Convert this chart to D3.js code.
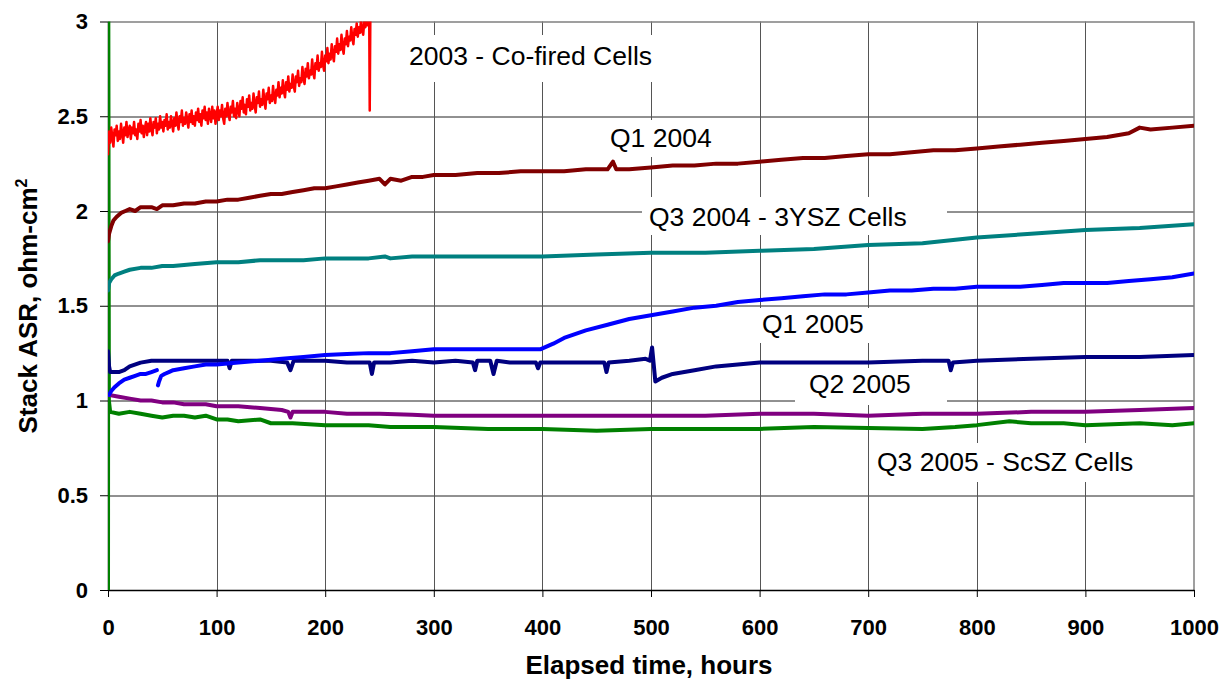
<!DOCTYPE html>
<html>
<head>
<meta charset="utf-8">
<script src="https://cdn.jsdelivr.net/npm/d3@7"></script>
<style>
  body { margin: 0; background: #fff; }
  text { font-family: "Liberation Sans", Arial, sans-serif; }
</style>
</head>
<body>
<div id="chart"></div>
<script>
// Data: [hours, ASR]
const cofired2003 = [[0,2.30],[1,2.42],[2,2.36],[3,2.44],[4,2.39],[5,2.34],[6,2.43],[7,2.40],[8,2.45],[9,2.37],[10,2.42],
  [11,2.38],[12,2.46],[13,2.41],[14,2.36],[15,2.44],[16,2.40],[17,2.47],[18,2.39],[19,2.43],[20,2.45],
  [21,2.38],[22,2.44],[23,2.41],[24,2.47],[25,2.40],[26,2.43],[27,2.38],[28,2.46],[29,2.42],[30,2.48],
  [31,2.41],[32,2.45],[33,2.39],[34,2.44],[35,2.47],[36,2.40],[37,2.46],[38,2.42],[39,2.49],[40,2.43],
  [41,2.40],[42,2.47],[43,2.44],[44,2.49],[45,2.41],[46,2.46],[47,2.43],[48,2.50],[49,2.44],[50,2.47],
  [51,2.42],[52,2.48],[53,2.45],[54,2.51],[55,2.43],[56,2.47],[57,2.44],[58,2.50],[59,2.46],[60,2.42],
  [61,2.49],[62,2.45],[63,2.52],[64,2.46],[65,2.43],[66,2.50],[67,2.47],[68,2.53],[69,2.45],[70,2.49],
  [71,2.46],[72,2.52],[73,2.48],[74,2.44],[75,2.51],[76,2.47],[77,2.53],[78,2.46],[79,2.50],[80,2.45],
  [81,2.52],[82,2.48],[83,2.54],[84,2.47],[85,2.51],[86,2.45],[87,2.53],[88,2.49],[89,2.55],[90,2.48],
  [91,2.52],[92,2.46],[93,2.54],[94,2.50],[95,2.47],[96,2.55],[97,2.49],[98,2.53],[99,2.46],[100,2.51],
  [101,2.55],[102,2.48],[103,2.53],[104,2.50],[105,2.56],[106,2.49],[107,2.46],[108,2.54],[109,2.50],[110,2.57],
  [111,2.51],[112,2.48],[113,2.55],[114,2.52],[115,2.58],[116,2.50],[117,2.54],[118,2.49],[119,2.57],[120,2.53],
  [121,2.50],[122,2.58],[123,2.54],[124,2.60],[125,2.52],[126,2.56],[127,2.51],[128,2.59],[129,2.55],[130,2.61],
  [131,2.53],[132,2.57],[133,2.54],[134,2.62],[135,2.56],[136,2.52],[137,2.60],[138,2.57],[139,2.63],[140,2.55],
  [141,2.59],[142,2.56],[143,2.64],[144,2.58],[145,2.54],[146,2.62],[147,2.59],[148,2.65],[149,2.57],[150,2.61],
  [151,2.58],[152,2.66],[153,2.60],[154,2.57],[155,2.64],[156,2.61],[157,2.68],[158,2.60],[159,2.65],[160,2.62],
  [161,2.69],[162,2.63],[163,2.60],[164,2.68],[165,2.64],[166,2.71],[167,2.63],[168,2.67],[169,2.65],[170,2.72],
  [171,2.66],[172,2.63],[173,2.71],[174,2.68],[175,2.74],[176,2.66],[177,2.70],[178,2.68],[179,2.76],[180,2.70],
  [181,2.67],[182,2.75],[183,2.71],[184,2.78],[185,2.70],[186,2.74],[187,2.72],[188,2.80],[189,2.73],[190,2.70],
  [191,2.78],[192,2.75],[193,2.82],[194,2.74],[195,2.78],[196,2.76],[197,2.84],[198,2.77],[199,2.74],[200,2.82],
  [201,2.79],[202,2.86],[203,2.78],[204,2.83],[205,2.80],[206,2.88],[207,2.82],[208,2.79],[209,2.87],[210,2.84],
  [211,2.91],[212,2.83],[213,2.88],[214,2.85],[215,2.93],[216,2.86],[217,2.83],[218,2.91],[219,2.88],[220,2.95],
  [221,2.87],[222,2.92],[223,2.90],[224,2.97],[225,2.91],[226,2.88],[227,2.96],[228,2.93],[229,2.99],[230,2.92],
  [231,2.97],[232,2.94],[233,3.01],[234,2.95],[235,2.93],[236,3.00],[237,2.97],[238,3.03],[239,2.98],[240,3.05],
  [240.5,3.05],[241,2.53],[241.6,3.05]];

const q1_2004 = [[0,1.84],[1,1.88],[3,1.92],[5,1.95],[8,1.97],[12,1.99],[16,2.00],[20,2.01],[25,2.00],[30,2.02],[40,2.02],[45,2.01],[50,2.03],[60,2.03],[70,2.04],[80,2.04],[90,2.05],[100,2.05],[110,2.06],[120,2.06],[130,2.07],[140,2.08],[150,2.09],[160,2.09],[170,2.10],[180,2.11],[190,2.12],[200,2.12],[210,2.13],[220,2.14],[230,2.15],[240,2.16],[250,2.17],[255,2.14],[260,2.17],[270,2.16],[280,2.18],[290,2.18],[300,2.19],[320,2.19],[340,2.20],[360,2.20],[380,2.21],[400,2.21],[420,2.21],[440,2.22],[460,2.22],[465,2.26],[468,2.22],[480,2.22],[500,2.23],[520,2.24],[540,2.24],[560,2.25],[580,2.25],[600,2.26],[620,2.27],[640,2.28],[660,2.28],[680,2.29],[700,2.30],[720,2.30],[740,2.31],[760,2.32],[780,2.32],[800,2.33],[820,2.34],[840,2.35],[860,2.36],[880,2.37],[900,2.38],[920,2.39],[940,2.41],[950,2.44],[960,2.43],[980,2.44],[1000,2.45]];

const q3_2004 = [[0,1.58],[1,1.62],[3,1.64],[6,1.66],[10,1.67],[15,1.68],[20,1.69],[30,1.70],[40,1.70],[50,1.71],[60,1.71],[80,1.72],[100,1.73],[120,1.73],[140,1.74],[160,1.74],[180,1.74],[200,1.75],[220,1.75],[240,1.75],[255,1.76],[260,1.75],[280,1.76],[300,1.76],[350,1.76],[400,1.76],[450,1.77],[500,1.78],[550,1.78],[600,1.79],[650,1.80],[700,1.82],[750,1.83],[800,1.86],[850,1.88],[900,1.90],[950,1.91],[1000,1.93]];

// null marks the gap near 46 h
const q1_2005 = [[1,1.03],[3,1.05],[6,1.07],[10,1.09],[15,1.11],[20,1.12],[25,1.13],[30,1.14],[35,1.14],[40,1.15],[45,1.16],null,[46,1.08],[47,1.10],[49,1.13],[52,1.14],[56,1.15],[60,1.16],[70,1.17],[80,1.18],[90,1.19],[100,1.19],[120,1.20],[140,1.21],[160,1.22],[180,1.23],[200,1.24],[220,1.245],[240,1.25],[260,1.25],[280,1.26],[300,1.27],[320,1.27],[340,1.27],[360,1.27],[380,1.27],[398,1.27],[410,1.30],[420,1.33],[440,1.37],[460,1.40],[480,1.43],[500,1.45],[520,1.47],[540,1.49],[560,1.50],[580,1.52],[600,1.53],[620,1.54],[640,1.55],[660,1.56],[680,1.56],[700,1.57],[720,1.58],[740,1.58],[760,1.59],[780,1.59],[800,1.60],[820,1.60],[840,1.60],[860,1.61],[880,1.62],[900,1.62],[920,1.62],[940,1.63],[960,1.64],[980,1.65],[1000,1.67]];

const q2_2005 = [[0,1.26],[1,1.18],[2,1.15],[5,1.15],[10,1.15],[15,1.16],[20,1.18],[30,1.20],[40,1.21],[50,1.21],[60,1.21],[70,1.21],[80,1.21],[90,1.21],[100,1.21],[110,1.21],[112,1.17],[114,1.21],[130,1.21],[150,1.21],[165,1.20],[168,1.16],[171,1.21],[190,1.21],[200,1.21],[220,1.20],[241,1.20],[243,1.14],[245,1.20],[260,1.20],[280,1.21],[300,1.20],[320,1.21],[336,1.20],[338,1.16],[340,1.21],[352,1.21],[355,1.14],[358,1.21],[370,1.20],[394,1.20],[396,1.17],[398,1.20],[420,1.20],[440,1.20],[457,1.20],[459,1.15],[461,1.20],[480,1.21],[495,1.22],[499,1.21],[501,1.28],[504,1.10],[510,1.12],[520,1.14],[540,1.16],[560,1.18],[580,1.19],[600,1.20],[650,1.20],[700,1.20],[750,1.21],[774,1.21],[776,1.16],[778,1.20],[800,1.21],[850,1.22],[900,1.23],[950,1.23],[1000,1.24]];

const purple2005 = [[0,1.03],[10,1.02],[20,1.01],[30,1.00],[40,1.00],[50,0.99],[60,0.99],[70,0.98],[80,0.98],[90,0.98],[100,0.97],[120,0.97],[140,0.96],[160,0.95],[166,0.94],[168,0.91],[170,0.94],[190,0.94],[200,0.94],[220,0.93],[250,0.93],[280,0.925],[300,0.92],[350,0.92],[400,0.92],[450,0.92],[500,0.92],[550,0.92],[600,0.93],[650,0.93],[700,0.92],[750,0.93],[800,0.93],[850,0.94],[900,0.94],[950,0.95],[1000,0.96]];

const q3_2005 = [[0,0],[0.3,3.05],[0.8,1.0],[2,0.94],[10,0.93],[20,0.94],[30,0.93],[40,0.92],[50,0.91],[60,0.92],[70,0.92],[80,0.91],[90,0.92],[100,0.90],[110,0.90],[120,0.89],[140,0.90],[150,0.88],[170,0.88],[200,0.87],[220,0.87],[240,0.87],[260,0.86],[280,0.86],[300,0.86],[350,0.85],[400,0.85],[450,0.84],[500,0.85],[550,0.85],[600,0.85],[650,0.86],[700,0.855],[750,0.85],[780,0.86],[800,0.87],[830,0.89],[850,0.88],[880,0.88],[900,0.87],[950,0.88],[980,0.87],[1000,0.88]];

const xTicks = [0,100,200,300,400,500,600,700,800,900,1000];
const yTicks = [0,0.5,1,1.5,2,2.5,3];

const seriesList = [
  {data: q3_2005, color: "#008000", w: 4},
  {data: purple2005, color: "#800080", w: 4},
  {data: q2_2005, color: "#000080", w: 4},
  {data: q1_2005, color: "#0000FF", w: 4},
  {data: q3_2004, color: "#008080", w: 4},
  {data: q1_2004, color: "#800000", w: 4},
  {data: cofired2003, color: "#FF0000", w: 2.5}
];

const labels = [
  {text: "2003 - Co-fired Cells", x: 409, y: 65, box: [400, 35, 265, 47]},
  {text: "Q1 2004", x: 610, y: 147, box: [600, 120, 125, 37]},
  {text: "Q3 2004 - 3YSZ Cells", x: 649, y: 226, box: [642, 197, 305, 38]},
  {text: "Q1 2005", x: 762, y: 333, box: [750, 308, 130, 35]},
  {text: "Q2 2005", x: 809, y: 393, box: [795, 368, 152, 37]},
  {text: "Q3 2005 - ScSZ Cells", x: 877, y: 471, box: [870, 443, 280, 39]}
];

const W = 1222, H = 681;
const margin = {top: 21.5, right: 28, bottom: 91, left: 108};
const width = W - margin.left - margin.right,
      height = H - margin.top - margin.bottom;

const svg = d3.select("#chart").append("svg")
    .attr("width", W).attr("height", H);

const x = d3.scaleLinear().domain([0, 1000]).range([0, width]);
const y = d3.scaleLinear().domain([0, 3]).range([height, 0]);

const g = svg.append("g")
    .attr("transform", "translate(" + margin.left + "," + margin.top + ")");

svg.append("clipPath").attr("id", "clip")
  .append("rect")
    .attr("x", margin.left).attr("y", margin.top)
    .attr("width", width).attr("height", height);

// grid
g.append("g").selectAll("line")
  .data(yTicks.slice(1, -1))
  .join("line")
    .attr("x1", 0).attr("x2", width)
    .attr("y1", d => Math.round(y(d)) + 0.5).attr("y2", d => Math.round(y(d)) + 0.5)
    .attr("stroke", "#222").attr("stroke-width", 1);
g.append("g").selectAll("line")
  .data(xTicks.slice(1, -1))
  .join("line")
    .attr("x1", d => Math.round(x(d)) + 0.5).attr("x2", d => Math.round(x(d)) + 0.5)
    .attr("y1", 0).attr("y2", height)
    .attr("stroke", "#555").attr("stroke-width", 1);

// border top/right
g.append("path")
    .attr("d", `M0,0.5H${width}V${height}`)
    .attr("fill", "none").attr("stroke", "#808080").attr("stroke-width", 1.5);

// label boxes hide grid
svg.append("g").selectAll("rect")
  .data(labels)
  .join("rect")
    .attr("x", d => d.box[0]).attr("y", d => d.box[1])
    .attr("width", d => d.box[2]).attr("height", d => d.box[3])
    .attr("fill", "#fff");

// axes
const xAxis = d3.axisBottom(x).tickValues(xTicks).tickFormat(d => d).tickSize(7).tickSizeOuter(0).tickPadding(22);
const yAxis = d3.axisLeft(y).tickValues(yTicks).tickFormat(d => d).tickSize(8).tickSizeOuter(0).tickPadding(12);

g.append("g").attr("class", "axis")
    .attr("transform", "translate(0," + height + ")")
    .call(xAxis);
g.append("g").attr("class", "axis")
    .call(yAxis);

svg.selectAll(".axis path").attr("stroke", "#000").attr("stroke-width", 1.5);
svg.selectAll(".axis line").attr("stroke", "#000");
svg.selectAll(".axis text")
    .attr("fill", "#000")
    .style("font-family", "'Liberation Sans', Arial, sans-serif")
    .style("font-size", "22px")
    .style("font-weight", "bold");

// series
const line = d3.line()
    .defined(d => d != null)
    .x(d => margin.left + x(d[0]))
    .y(d => margin.top + y(d[1]));

svg.append("g").attr("clip-path", "url(#clip)")
  .selectAll("path")
  .data(seriesList)
  .join("path")
    .attr("d", d => line(d.data))
    .attr("fill", "none")
    .attr("stroke", d => d.color)
    .attr("stroke-width", d => d.w)
    .attr("stroke-linejoin", "round")
    .attr("stroke-linecap", "round");

// labels
svg.append("g").selectAll("text")
  .data(labels)
  .join("text")
    .attr("x", d => d.x).attr("y", d => d.y)
    .style("font-size", "26.5px")
    .attr("fill", "#000")
    .text(d => d.text);

// axis titles
svg.append("text")
    .attr("x", margin.left + width / 2 - 2).attr("y", 674)
    .attr("text-anchor", "middle")
    .style("font-size", "26px").style("font-weight", "bold")
    .text("Elapsed time, hours");

const yt = svg.append("text")
    .attr("transform", "translate(37,306) rotate(-90)")
    .attr("text-anchor", "middle")
    .style("font-size", "26px").style("font-weight", "bold");
yt.append("tspan").text("Stack ASR, ohm-cm");
yt.append("tspan").attr("dy", -10).style("font-size", "16px").text("2");
</script>
</body>
</html>
